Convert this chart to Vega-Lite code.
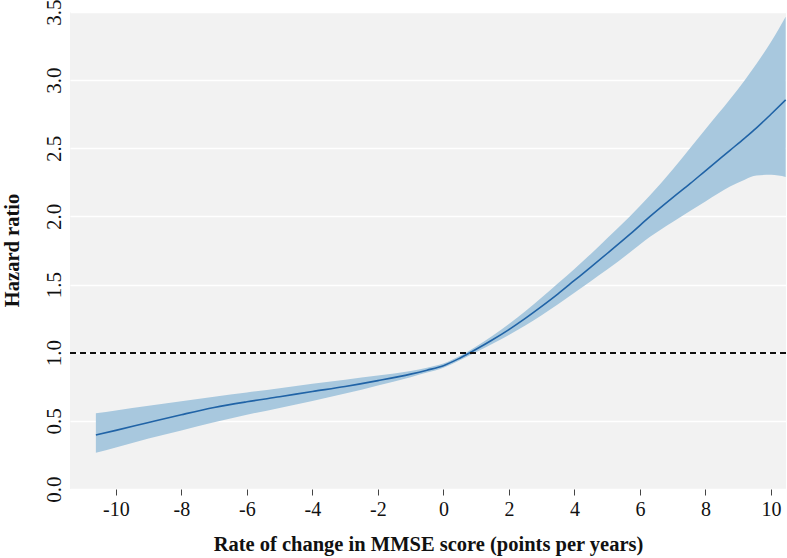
{
  "$schema": "https://vega.github.io/schema/vega-lite/v6.json",
  "width": 716,
  "height": 477,
  "autosize": "none",
  "padding": {"left": 70, "top": 12, "right": 1, "bottom": 69},
  "background": "white",
  "config": {
    "view": {"fill": "#f2f2f2", "stroke": null},
    "font": "Liberation Serif"
  },
  "data": {
    "values": [
      {"x": -10.61, "hr": 0.396, "lo": 0.266, "hi": 0.555},
      {"x": -10, "hr": 0.43, "lo": 0.305, "hi": 0.576},
      {"x": -9, "hr": 0.488, "lo": 0.37, "hi": 0.61},
      {"x": -8, "hr": 0.545, "lo": 0.43, "hi": 0.643},
      {"x": -7, "hr": 0.598, "lo": 0.49, "hi": 0.677},
      {"x": -6, "hr": 0.64, "lo": 0.545, "hi": 0.708},
      {"x": -5, "hr": 0.677, "lo": 0.595, "hi": 0.74},
      {"x": -4, "hr": 0.715, "lo": 0.645, "hi": 0.772},
      {"x": -3, "hr": 0.752, "lo": 0.7, "hi": 0.802},
      {"x": -2, "hr": 0.795, "lo": 0.76, "hi": 0.832},
      {"x": -1, "hr": 0.843, "lo": 0.82, "hi": 0.866},
      {"x": -0.5, "hr": 0.872, "lo": 0.854, "hi": 0.89},
      {"x": 0, "hr": 0.905, "lo": 0.89, "hi": 0.92},
      {"x": 0.5, "hr": 0.96, "lo": 0.945, "hi": 0.975},
      {"x": 1, "hr": 1.025, "lo": 1.005, "hi": 1.045},
      {"x": 1.5, "hr": 1.095, "lo": 1.065, "hi": 1.125},
      {"x": 2, "hr": 1.17, "lo": 1.13, "hi": 1.21},
      {"x": 2.5, "hr": 1.252, "lo": 1.2, "hi": 1.305},
      {"x": 3, "hr": 1.34, "lo": 1.275, "hi": 1.405},
      {"x": 3.5, "hr": 1.432, "lo": 1.355, "hi": 1.51},
      {"x": 4, "hr": 1.53, "lo": 1.44, "hi": 1.615},
      {"x": 4.5, "hr": 1.628, "lo": 1.525, "hi": 1.725},
      {"x": 5, "hr": 1.728, "lo": 1.61, "hi": 1.84},
      {"x": 5.69, "hr": 1.868, "lo": 1.735, "hi": 2.0},
      {"x": 6.31, "hr": 2.0, "lo": 1.85, "hi": 2.155},
      {"x": 7, "hr": 2.138, "lo": 1.96, "hi": 2.345},
      {"x": 7.53, "hr": 2.24, "lo": 2.04, "hi": 2.5},
      {"x": 8, "hr": 2.335, "lo": 2.11, "hi": 2.64},
      {"x": 8.75, "hr": 2.485, "lo": 2.22, "hi": 2.86},
      {"x": 9.2, "hr": 2.575, "lo": 2.27, "hi": 3.0},
      {"x": 9.56, "hr": 2.65, "lo": 2.3, "hi": 3.12},
      {"x": 10, "hr": 2.75, "lo": 2.305, "hi": 3.28},
      {"x": 10.45, "hr": 2.855, "lo": 2.29, "hi": 3.465}
    ]
  },
  "layer": [
    {
      "mark": {"type": "area", "color": "#a8c8de", "opacity": 1, "interpolate": "monotone"},
      "encoding": {
        "x": {
          "field": "x", "type": "quantitative",
          "scale": {"domain": [-11.4, 10.46], "nice": false, "zero": false},
          "axis": {
            "title": "Rate of change in MMSE score (points per years)",
            "values": [-10, -8, -6, -4, -2, 0, 2, 4, 6, 8, 10],
            "labelExpr": "replace(datum.label, '−', '-')",
            "grid": false, "domain": false,
            "ticks": true, "tickSize": 6, "tickColor": "#444", "tickWidth": 1,
            "labelFont": "Liberation Serif", "labelFontSize": 20, "labelColor": "#111",
            "labelPadding": 4,
            "titleFont": "Liberation Serif", "titleFontSize": 20.5, "titleFontWeight": "bold", "titleColor": "#111",
            "titleBaseline": "alphabetic", "titleY": 61
          }
        },
        "y": {
          "field": "lo", "type": "quantitative",
          "scale": {"domain": [0, 3.5], "nice": false, "zero": true},
          "axis": {
            "title": "Hazard ratio",
            "values": [0, 0.5, 1, 1.5, 2, 2.5, 3, 3.5],
            "format": ".1f",
            "grid": true, "gridColor": "white", "gridWidth": 1.3,
            "domain": false, "ticks": false, "tickSize": 0,
            "labelFont": "Liberation Serif", "labelFontSize": 21, "labelColor": "#111",
            "labelAngle": 270, "labelAlign": "center", "labelBaseline": "alphabetic",
            "labelPadding": 10,
            "titleFont": "Liberation Serif", "titleFontSize": 20.5, "titleFontWeight": "bold", "titleColor": "#111",
            "titleAngle": 270, "titleAlign": "center", "titleBaseline": "alphabetic",
            "titleX": -52, "titleY": 238
          }
        },
        "y2": {"field": "hi"}
      }
    },
    {
      "mark": {"type": "line", "color": "#2063a6", "strokeWidth": 1.6, "interpolate": "monotone"},
      "encoding": {
        "x": {"field": "x", "type": "quantitative"},
        "y": {"field": "hr", "type": "quantitative"}
      }
    },
    {
      "mark": {"type": "rule", "color": "#111", "strokeDash": [6, 4], "strokeWidth": 1.3},
      "encoding": {
        "y": {"datum": 1}
      }
    }
  ]
}
